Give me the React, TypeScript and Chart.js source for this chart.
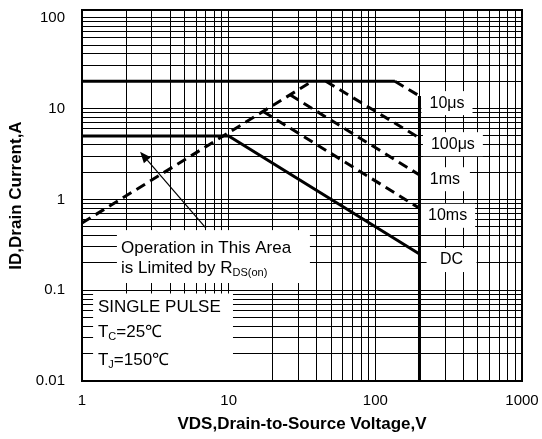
import { useEffect, useRef } from "react";
import { Chart, registerables } from "chart.js";

Chart.register(...registerables);

const FONT = "'Liberation Sans', Arial, Helvetica, sans-serif";

// Axis decades and minor grid multipliers
const X_DECADES = [1, 10, 100, 1000];
const Y_DECADES = [0.01, 0.1, 1, 10, 100];
const MINOR_STEPS = [2, 3, 4, 5, 6, 7, 8, 9];
const Y_TOP = 122;

// Series (VDS in V, ID in A)
const currentLimitV = [1, 136];
const currentLimitI = [20, 20];
const pulse10usV = [136, 200];
const pulse10usI = [20, 13.8];
const pulse100usV = [46, 200];
const pulse100usI = [20, 4.75];
const pulse1msV = [26.2, 200];
const pulse1msI = [14.2, 1.86];
const pulse10msV = [17.2, 200];
const pulse10msI = [9.3, 0.8];
const rdsLimitV = [1, 37];
const rdsLimitI = [0.55, 20];
const dcV = [1, 10, 200];
const dcI = [5, 5, 0.25];
const breakdownV = [200, 200];
const breakdownI = [13.8, 0.01];

// Curve labels
const PULSE_LABELS = ["10μs", "100μs", "1ms", "10ms", "DC"];
const PULSE_LABEL_V = [308, 338, 298, 311, 331];
const PULSE_LABEL_I = [11.5, 4.06, 1.67, 0.66, 0.215];

// Annotation boxes (data coordinates)
const RDS_NOTE_BOX_V = [1.73, 35.8];
const RDS_NOTE_BOX_I = [0.12, 0.459];
const RDS_NOTE_TEXT_V = 1.845;
const RDS_NOTE_LINE_I = [0.291, 0.1754];

const COND_BOX_V = [1.19, 10.7];
const COND_BOX_I = [0.01, 0.092];
const COND_TEXT_V = 1.285;
const COND_LINE_I = [0.0653, 0.0347, 0.01707];

const ARROW_TAIL = { v: 7.0, i: 0.483 };
const ARROW_HEAD = { v: 2.49, i: 3.34 };

const toPts = (vs: number[], is: number[]) => vs.map((v, k) => ({ x: v, y: is[k] }));

const gridValues = (decades: number[]) => {
  const out: number[] = [];
  decades.forEach((d, k) => {
    out.push(d);
    if (k < decades.length - 1) MINOR_STEPS.forEach((m) => out.push(+(d * m).toPrecision(6)));
  });
  return out.sort((a, b) => a - b);
};

const isDecade = (v: number) => Math.abs(Math.log10(v) - Math.round(Math.log10(v))) < 1e-9;

type Part = { t: string; sub?: boolean };

function drawRich(ctx: CanvasRenderingContext2D, parts: Part[], x: number, y: number) {
  let cx = x;
  ctx.textBaseline = "middle";
  ctx.textAlign = "left";
  for (const p of parts) {
    if (p.sub) {
      ctx.font = `11px ${FONT}`;
      ctx.fillText(p.t, cx, y + 5);
    } else {
      ctx.font = `17px ${FONT}`;
      ctx.fillText(p.t, cx, y);
    }
    cx += ctx.measureText(p.t).width;
  }
}

const soaPlugin = {
  id: "soaAnnotations",
  beforeDatasetsDraw(chart: any) {
    const { ctx, scales } = chart;
    const x = scales.x;
    const y = scales.y;
    ctx.save();
    ctx.fillStyle = "#fff";
    const rect = (vs: number[], is: number[]) => {
      const l = x.getPixelForValue(vs[0]);
      const r = x.getPixelForValue(vs[1]);
      const t = y.getPixelForValue(is[1]);
      const b = y.getPixelForValue(is[0]);
      ctx.fillRect(l, t, r - l, b - t);
    };
    rect(RDS_NOTE_BOX_V, RDS_NOTE_BOX_I);
    rect(COND_BOX_V, COND_BOX_I);
    ctx.font = `16px ${FONT}`;
    PULSE_LABELS.forEach((lab, k) => {
      const cx = x.getPixelForValue(PULSE_LABEL_V[k]);
      const cy = y.getPixelForValue(PULSE_LABEL_I[k]);
      const w = Math.max(ctx.measureText(lab).width + 16, 50);
      ctx.fillRect(cx - w / 2, cy - 12, w, 24);
    });
    ctx.restore();
  },
  afterDatasetsDraw(chart: any) {
    const { ctx, scales, chartArea } = chart;
    const x = scales.x;
    const y = scales.y;
    ctx.save();
    ctx.fillStyle = "#000";
    ctx.strokeStyle = "#000";

    // curve labels
    ctx.font = `16px ${FONT}`;
    ctx.textAlign = "center";
    ctx.textBaseline = "middle";
    PULSE_LABELS.forEach((lab, k) => {
      ctx.fillText(lab, x.getPixelForValue(PULSE_LABEL_V[k]), y.getPixelForValue(PULSE_LABEL_I[k]));
    });

    // RDS(on) note
    const nx = x.getPixelForValue(RDS_NOTE_TEXT_V);
    drawRich(ctx, [{ t: "Operation in This Area" }], nx, y.getPixelForValue(RDS_NOTE_LINE_I[0]));
    drawRich(ctx, [{ t: "is Limited by R" }, { t: "DS(on)", sub: true }], nx, y.getPixelForValue(RDS_NOTE_LINE_I[1]));

    // conditions
    const cx = x.getPixelForValue(COND_TEXT_V);
    drawRich(ctx, [{ t: "SINGLE PULSE" }], cx, y.getPixelForValue(COND_LINE_I[0]));
    drawRich(ctx, [{ t: "T" }, { t: "C", sub: true }, { t: "=25℃" }], cx, y.getPixelForValue(COND_LINE_I[1]));
    drawRich(ctx, [{ t: "T" }, { t: "J", sub: true }, { t: "=150℃" }], cx, y.getPixelForValue(COND_LINE_I[2]));

    // arrow
    const tx = x.getPixelForValue(ARROW_TAIL.v);
    const ty = y.getPixelForValue(ARROW_TAIL.i);
    const hx = x.getPixelForValue(ARROW_HEAD.v);
    const hy = y.getPixelForValue(ARROW_HEAD.i);
    const ang = Math.atan2(hy - ty, hx - tx);
    const len = 11;
    const half = 4.5;
    const bx = hx - len * Math.cos(ang);
    const by = hy - len * Math.sin(ang);
    ctx.lineWidth = 1.2;
    ctx.beginPath();
    ctx.moveTo(tx, ty);
    ctx.lineTo(bx, by);
    ctx.stroke();
    ctx.beginPath();
    ctx.moveTo(hx, hy);
    ctx.lineTo(bx + half * Math.sin(ang), by - half * Math.cos(ang));
    ctx.lineTo(bx - half * Math.sin(ang), by + half * Math.cos(ang));
    ctx.closePath();
    ctx.fill();

    // frame
    ctx.lineWidth = 2;
    ctx.strokeRect(chartArea.left, chartArea.top, chartArea.right - chartArea.left, chartArea.bottom - chartArea.top);
    ctx.restore();
  },
};

const zeroPad = (s: any) => {
  s.paddingTop = 0;
  s.paddingBottom = 0;
  s.paddingLeft = 0;
  s.paddingRight = 0;
};

export default function App() {
  const ref = useRef<HTMLCanvasElement | null>(null);

  useEffect(() => {
    document.body.style.margin = "0";
    const canvas = ref.current;
    if (!canvas) return;
    const solid = (vs: number[], is: number[]) => ({
      data: toPts(vs, is),
      showLine: true,
      borderColor: "#000",
      borderWidth: 3,
      pointRadius: 0,
      fill: false,
      tension: 0,
    });
    const dashed = (vs: number[], is: number[]) => ({ ...solid(vs, is), borderDash: [10, 6] });

    const xGrid = gridValues(X_DECADES);
    const yGrid = gridValues(Y_DECADES);

    const chart = new Chart(canvas, {
      type: "scatter",
      data: {
        datasets: [
          solid(currentLimitV, currentLimitI),
          dashed(pulse10usV, pulse10usI),
          dashed(pulse100usV, pulse100usI),
          dashed(pulse1msV, pulse1msI),
          dashed(pulse10msV, pulse10msI),
          dashed(rdsLimitV, rdsLimitI),
          solid(dcV, dcI),
          solid(breakdownV, breakdownI),
        ] as any,
      },
      options: {
        animation: false,
        responsive: false,
        devicePixelRatio: 1,
        layout: { padding: { left: 3, right: 20, top: 10, bottom: 2 } },
        plugins: { legend: { display: false }, tooltip: { enabled: false } },
        scales: {
          x: {
            type: "logarithmic",
            min: 1,
            max: 1000,
            afterBuildTicks: (s: any) => {
              s.ticks = xGrid.map((v) => ({ value: v }));
            },
            afterFit: (s: any) => {
              s.height = 56;
              zeroPad(s);
            },
            ticks: {
              autoSkip: false,
              maxRotation: 0,
              minRotation: 0,
              padding: 11,
              color: "#000",
              font: { family: FONT, size: 15 },
              callback: (v: any) => (isDecade(Number(v)) ? String(Number(v)) : ""),
            },
            grid: { color: "#000", lineWidth: 1, drawTicks: false },
            border: { display: false },
            title: {
              display: true,
              text: "VDS,Drain-to-Source Voltage,V",
              color: "#000",
              padding: { top: 4, bottom: 2 },
              font: { family: FONT, size: 17, weight: "bold" },
            },
          },
          y: {
            type: "logarithmic",
            min: 0.01,
            max: Y_TOP,
            afterBuildTicks: (s: any) => {
              s.ticks = yGrid.map((v) => ({ value: v }));
            },
            afterFit: (s: any) => {
              s.width = 79;
              zeroPad(s);
            },
            ticks: {
              autoSkip: false,
              padding: 17,
              color: "#000",
              font: { family: FONT, size: 15 },
              callback: (v: any) => (isDecade(Number(v)) ? String(Number(v)) : ""),
            },
            grid: { color: "#000", lineWidth: 1, drawTicks: false },
            border: { display: false },
            title: {
              display: true,
              text: "ID,Drain Current,A",
              color: "#000",
              padding: { top: 3, bottom: 4 },
              font: { family: FONT, size: 17, weight: "bold" },
            },
          },
        },
      } as any,
      plugins: [soaPlugin],
    });
    return () => chart.destroy();
  }, []);

  return <canvas ref={ref} width={542} height={439} style={{ display: "block" }} />;
}
